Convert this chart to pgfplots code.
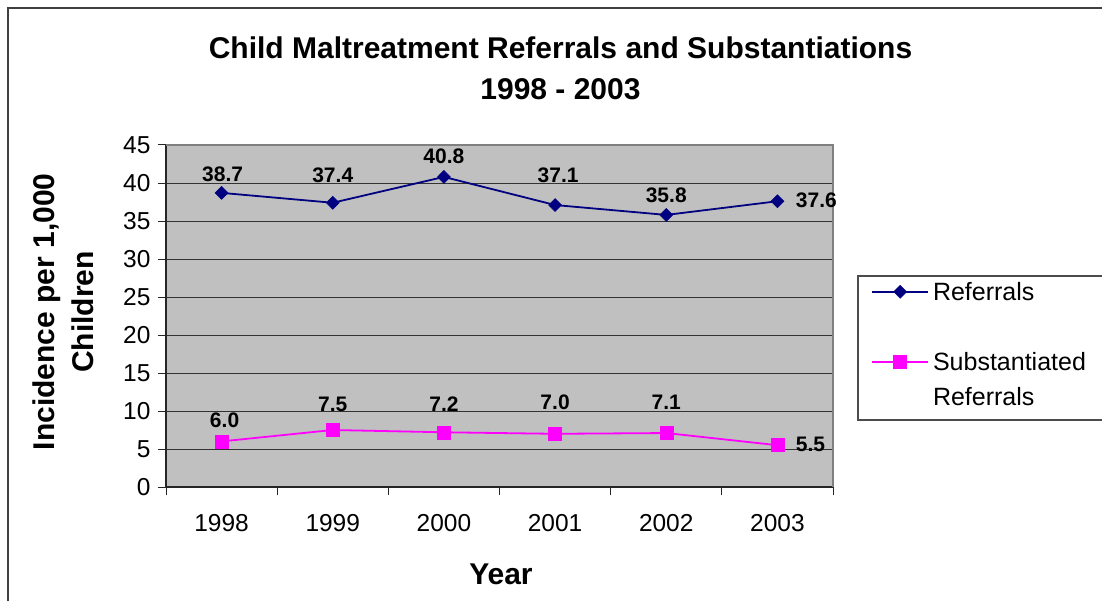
\documentclass[border=0pt]{standalone}
\usepackage{pgfplots}
\usepackage{pgfplotstable}
\pgfplotsset{compat=1.18}
\usepackage{fontspec}
\setmainfont{Liberation Sans}

\definecolor{refblue}{RGB}{0,0,128}
\definecolor{submag}{RGB}{255,0,255}
\definecolor{plotgray}{RGB}{192,192,192}
\definecolor{framegray}{RGB}{128,128,128}

% year index, rate per 1,000 children, label offsets (pt)
\pgfplotstableread{
x y dx dy
0 38.7 1 19
1 37.4 0 27
2 40.8 0 21
3 37.1 3 30
4 35.8 0 20
5 37.6 39 1
}\referrals

\pgfplotstableread{
x y dx dy
0 6.0 3 21
1 7.5 0 26
2 7.2 0 28
3 7.0 0 32
4 7.1 0 31
5 5.5 33 1
}\substantiated

\begin{document}
\begin{tikzpicture}
\path[use as bounding box] (0pt,0pt) rectangle (1102pt,600pt);
% chart frame
\draw[line width=1.2pt, black!75] (8pt,-5pt) -- (8pt,592pt) -- (1110pt,592pt);
% title
\node[font=\bfseries\fontsize{30}{41}\selectfont, align=center] at (560.5pt,532pt)
  {Child Maltreatment Referrals and Substantiations\\1998 - 2003};
% legend frame
\draw[line width=1.2pt, black!70] (858pt,324pt) rectangle (1110pt,180pt);

\begin{axis}[
  at={(166pt,113pt)}, anchor=south west,
  scale only axis, width=667pt, height=342pt,
  xmin=-0.5, xmax=5.5, ymin=0, ymax=45,
  clip=false,
  axis background/.style={fill=plotgray},
  axis x line*=bottom, axis y line*=left,
  axis line style={black!85, line width=1.4pt},
  xtick={0,...,5},
  xticklabels={1998,1999,2000,2001,2002,2003},
  major x tick style={draw=none},
  minor xtick={-0.5,0.5,...,5.5},
  ytick={0,5,...,45},
  tick align=outside,
  major tick length=8pt, minor tick length=8pt,
  every tick/.style={black!85, line width=1pt},
  ymajorgrids,
  major grid style={black!80, line width=0.9pt},
  /pgf/number format/assume math mode=true,
  ticklabel style={font=\fontsize{24.5}{28}\selectfont},
  xticklabel style={yshift=-16pt},
  yticklabel style={xshift=-4pt},
  xlabel={Year},
  xlabel style={at={(axis description cs:0.5022,-0.2544)}, anchor=center,
    font=\bfseries\fontsize{30}{36}\selectfont},
  ylabel={Incidence per 1,000\\Children},
  ylabel style={at={(axis description cs:-0.1537,0.512)}, anchor=center,
    align=center, font=\bfseries\fontsize{30}{39}\selectfont},
  legend cell align=left,
  legend image code/.code={%
    \draw[mark repeat=2,mark phase=2] plot coordinates {(0pt,0pt) (28pt,0pt) (56pt,0pt)};},
  legend style={at={(axis description cs:1.057,0.597)}, anchor=north west,
    draw=none, fill=none, inner sep=0pt, row sep=17.5pt,
    font=\fontsize{25}{29}\selectfont,
    nodes={inner xsep=4pt, inner ysep=0pt, text height=17.5pt, text depth=0pt}},
  nodes near coords={\pgfmathprintnumber[fixed,fixed zerofill,precision=1]{\pgfplotspointmeta}},
  every node near coord/.append style={anchor=center, text=black,
    font=\bfseries\fontsize{21}{24}\selectfont},
]
\addplot[refblue, line width=1.8pt, mark=diamond*, mark size=6.5pt,
  mark options={solid, xscale=1.33, line width=0.5pt},
  point meta=y,
  visualization depends on={\thisrow{dx} \as \dx},
  visualization depends on={\thisrow{dy} \as \dy},
  every node near coord/.append style={xshift=\dx pt, yshift=\dy pt}]
  table[x=x, y=y] {\referrals};
\addlegendentry{Referrals}
\addlegendimage{empty legend}
\addlegendentry{\phantom{R}}
\addplot[submag, line width=1.8pt, mark=square*, mark size=6.5pt,
  mark options={solid, line width=0.5pt},
  point meta=y,
  visualization depends on={\thisrow{dx} \as \dx},
  visualization depends on={\thisrow{dy} \as \dy},
  every node near coord/.append style={xshift=\dx pt, yshift=\dy pt}]
  table[x=x, y=y] {\substantiated};
\addlegendentry{Substantiated}
\addlegendimage{empty legend}
\addlegendentry{Referrals}
% plot-area border on the top and right
\draw[framegray, line width=1.6pt] (rel axis cs:0,1) -- (rel axis cs:1,1) -- (rel axis cs:1,0);
\end{axis}
\end{tikzpicture}
\end{document}
